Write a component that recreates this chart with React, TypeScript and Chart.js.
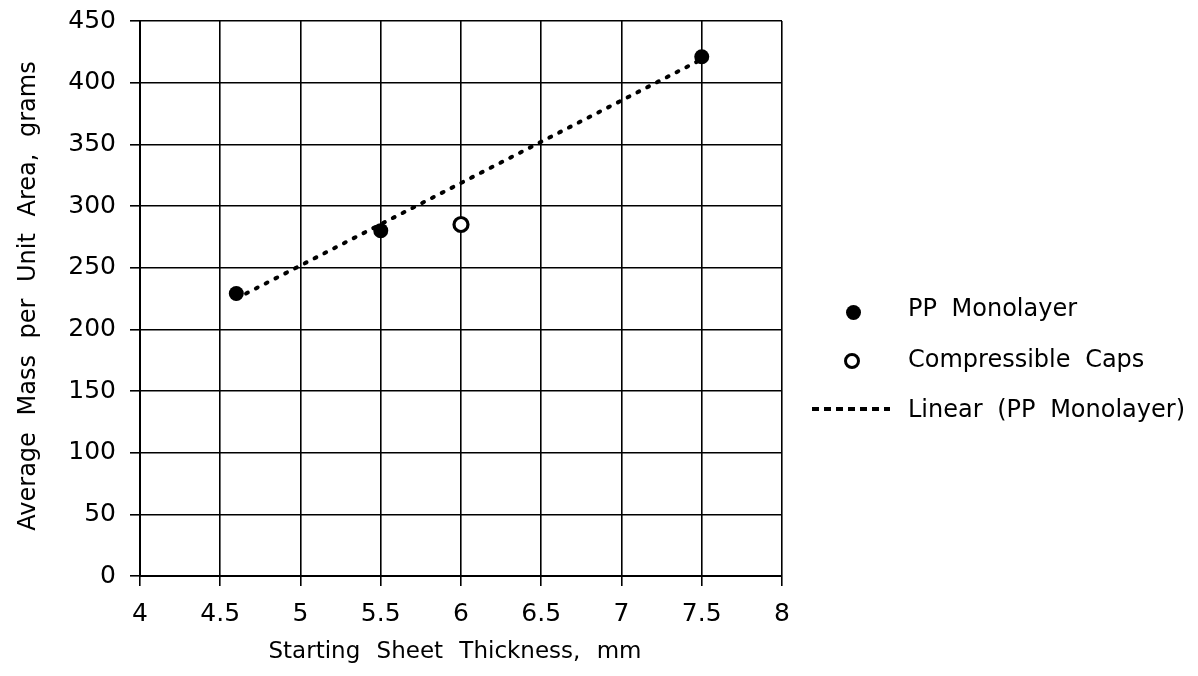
import React, { useEffect, useRef } from "react";
import { Chart, registerables } from "chart.js";

Chart.register(...registerables);

const ppX = [4.6, 5.5, 7.5];
const ppY = [229, 280, 421];
const capsX = [6.0];
const capsY = [285];
const trendX = [4.6, 7.5];
const trendY = [225, 419];
const xTicks = [4, 4.5, 5, 5.5, 6, 6.5, 7, 7.5, 8];
const yTicks = [0, 50, 100, 150, 200, 250, 300, 350, 400, 450];
const legendLabels = ["PP Monolayer", "Compressible Caps", "Linear (PP Monolayer)"];
const xTitle = "Starting Sheet Thickness, mm";
const yTitle = "Average Mass per Unit Area, grams";

const FONT = "'DejaVu Sans', sans-serif";

export default function App() {
  const ref = useRef<HTMLCanvasElement | null>(null);

  useEffect(() => {
    document.body.style.margin = "0";
    const ctx = ref.current!;
    const chart = new Chart(ctx, {
      type: "scatter",
      data: {
        datasets: [
          {
            label: legendLabels[0],
            data: ppX.map((x, i) => ({ x, y: ppY[i] })),
            backgroundColor: "#000",
            borderColor: "#000",
            pointRadius: 7.5,
            pointBorderWidth: 0,
            order: 1,
          },
          {
            label: legendLabels[1],
            data: capsX.map((x, i) => ({ x, y: capsY[i] })),
            backgroundColor: "#fff",
            borderColor: "#000",
            pointRadius: 7,
            pointBorderWidth: 3.2,
            order: 1,
          },
          {
            type: "line",
            label: legendLabels[2],
            data: trendX.map((x, i) => ({ x, y: trendY[i] })),
            borderColor: "#000",
            borderWidth: 4,
            borderDash: [2, 9],
            borderCapStyle: "round",
            pointRadius: 0,
            fill: false,
            showLine: true,
            order: 2,
          } as any,
        ],
      },
      options: {
        responsive: false,
        animation: false,
        layout: { padding: { top: 21, right: 416, left: 0, bottom: 0 } },
        plugins: { legend: { display: false }, tooltip: { enabled: false } },
        scales: {
          x: {
            type: "linear",
            min: 4,
            max: 8,
            afterBuildTicks: (s: any) => {
              s.ticks = xTicks.map((v) => ({ value: v }));
            },
            afterFit: (s: any) => {
              s.height = 100;
              s.paddingLeft = 0;
              s.paddingRight = 0;
            },
            ticks: {
              color: "#000",
              font: { family: FONT, size: 25 },
              padding: 13,
              maxRotation: 0,
              callback: (v: any) => String(v),
            },
            grid: { color: "#000", lineWidth: 1.6, tickLength: 10, tickColor: "#000" },
            border: { color: "#000", width: 2 },
          },
          y: {
            type: "linear",
            min: 0,
            max: 450,
            afterBuildTicks: (s: any) => {
              s.ticks = yTicks.map((v) => ({ value: v }));
            },
            afterFit: (s: any) => {
              s.width = 140;
              s.paddingTop = 0;
              s.paddingBottom = 0;
            },
            ticks: {
              color: "#000",
              font: { family: FONT, size: 25 },
              padding: 14,
              callback: (v: any) => String(v),
            },
            grid: { color: "#000", lineWidth: 1.6, tickLength: 10, tickColor: "#000" },
            border: { color: "#000", width: 2 },
          },
        },
      },
    });
    return () => chart.destroy();
  }, []);

  const textStyle: React.CSSProperties = {
    position: "absolute",
    fontFamily: FONT,
    fontSize: 24,
    color: "#000",
    whiteSpace: "nowrap",
    wordSpacing: 7,
    lineHeight: "30px",
  };

  return (
    <div style={{ position: "relative", width: 1198, height: 676, background: "#fff", overflow: "hidden" }}>
      <canvas ref={ref} width={1198} height={676} style={{ position: "absolute", left: 0, top: 0, width: 1198, height: 676 }} />
      {/* axis titles */}
      <div style={{ ...textStyle, left: 455 - 300, width: 600, top: 650 - 15, textAlign: "center", fontSize: 23, wordSpacing: 9 }}>
        {xTitle}
      </div>
      <div
        style={{
          ...textStyle,
          left: 27 - 300,
          width: 600,
          top: 296 - 15,
          textAlign: "center",
          transform: "rotate(-90deg)",
          wordSpacing: 9,
        }}
      >
        {yTitle}
      </div>
      {/* legend */}
      <div style={{ position: "absolute", left: 853 - 7.5, top: 312 - 7.5, width: 15, height: 15, borderRadius: "50%", background: "#000" }} />
      <div style={{ position: "absolute", left: 852 - 8, top: 361 - 8, width: 10, height: 10, borderRadius: "50%", border: "3px solid #000", background: "#fff" }} />
      <div
        style={{
          position: "absolute",
          left: 812,
          top: 409 - 2,
          width: 78,
          height: 4,
          background: "repeating-linear-gradient(to right, #000 0 7px, transparent 7px 12px)",
        }}
      />
      <div style={{ ...textStyle, left: 908, top: 308 - 15 }}>{legendLabels[0]}</div>
      <div style={{ ...textStyle, left: 908, top: 359 - 15 }}>{legendLabels[1]}</div>
      <div style={{ ...textStyle, left: 908, top: 409 - 15 }}>{legendLabels[2]}</div>
    </div>
  );
}
